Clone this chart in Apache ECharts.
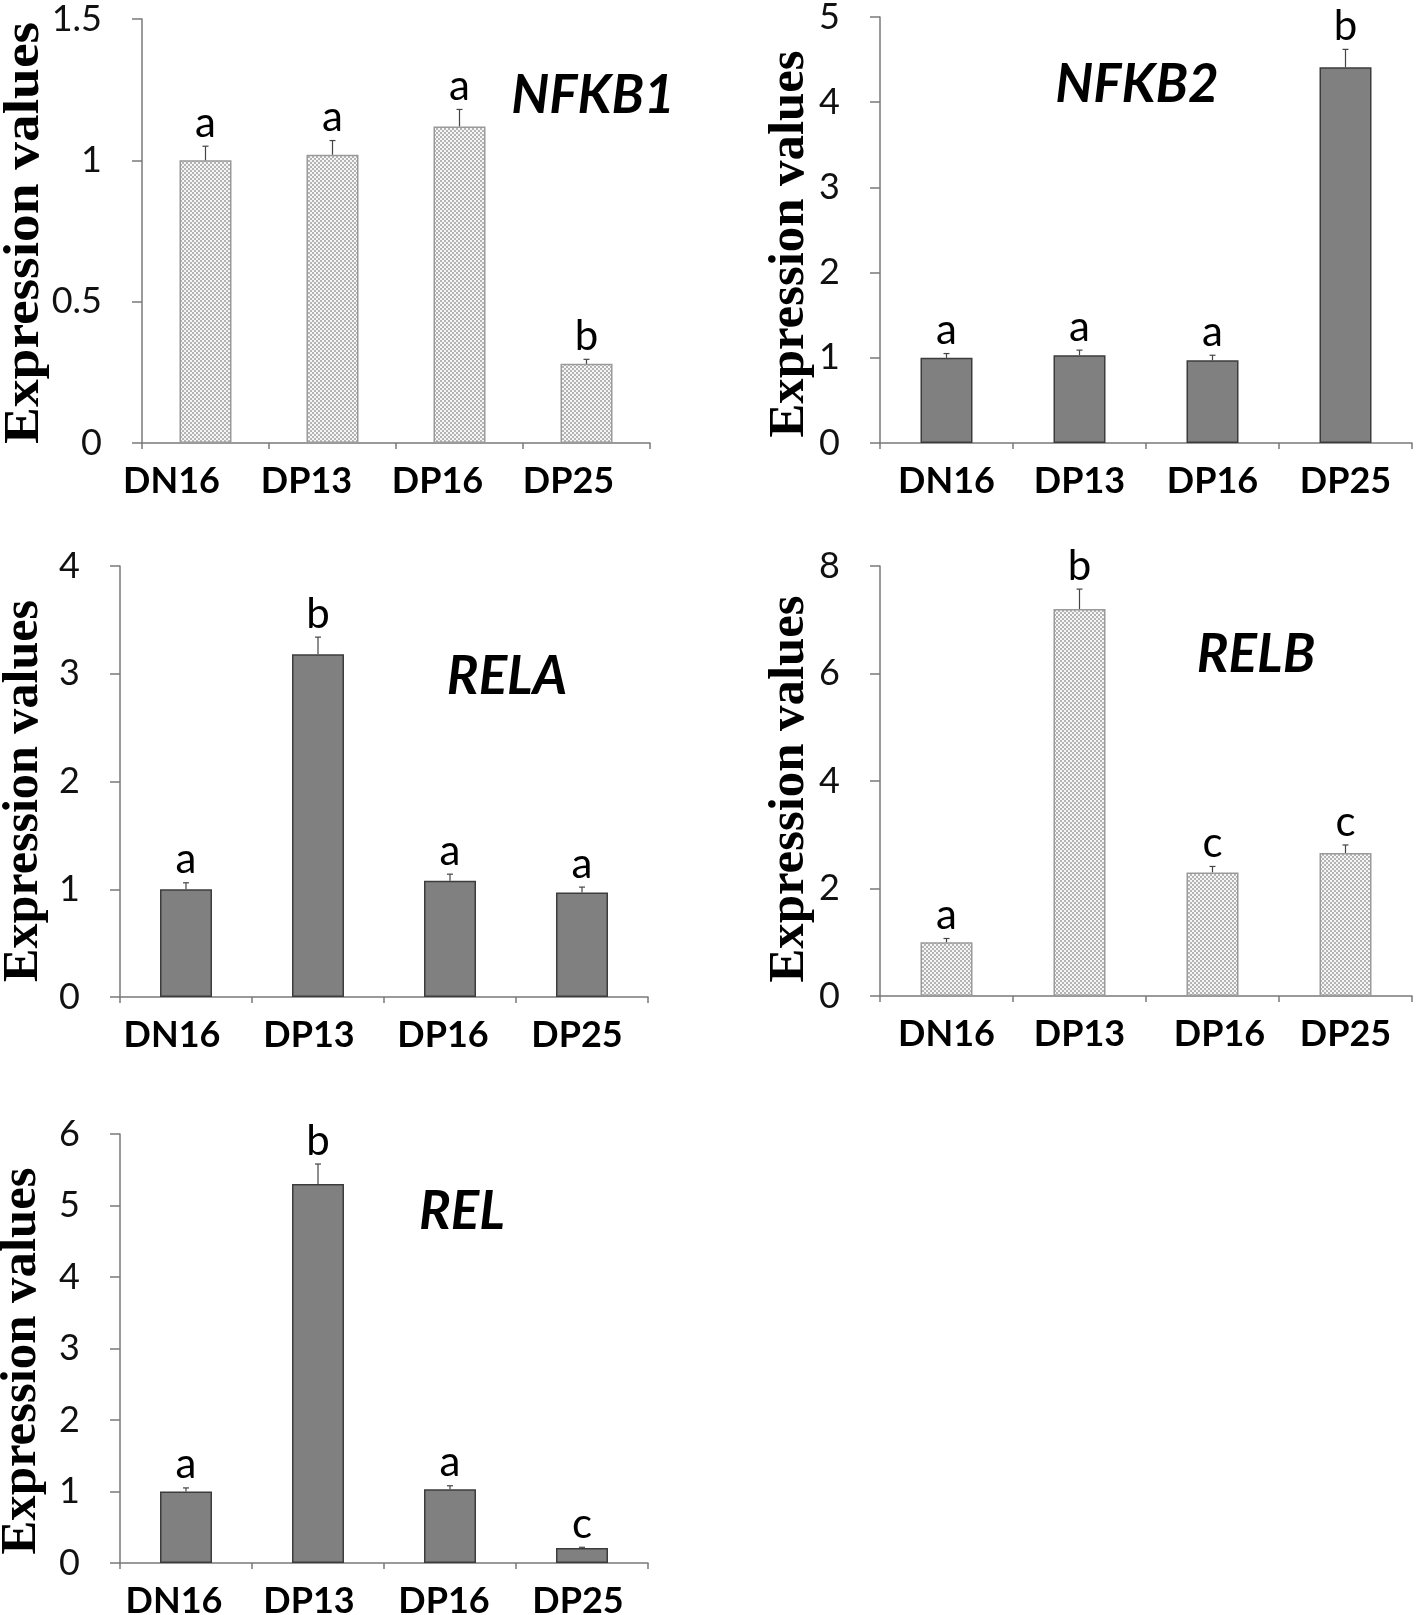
<!DOCTYPE html>
<html>
<head>
<meta charset="utf-8">
<title>NF-kB subunit expression</title>
<script src="https://cdn.jsdelivr.net/npm/echarts@6/dist/echarts.min.js"></script>
<style>
html, body { margin: 0; padding: 0; background: #fff; }
#chart { width: 1416px; height: 1615px; }
</style>
</head>
<body>
<div id="chart"></div>
<script>
const categories = ['DN16', 'DP13', 'DP16', 'DP25'];

const nfkb1Values = [1.00, 1.02, 1.12, 0.28];
const nfkb1Errors = [0.05, 0.05, 0.06, 0.016];
const nfkb1Letters = ['a', 'a', 'a', 'b'];

const nfkb2Values = [1.00, 1.03, 0.97, 4.41];
const nfkb2Errors = [0.05, 0.06, 0.06, 0.21];
const nfkb2Letters = ['a', 'a', 'a', 'b'];

const relaValues = [1.00, 3.18, 1.08, 0.97];
const relaErrors = [0.06, 0.16, 0.06, 0.05];
const relaLetters = ['a', 'b', 'a', 'a'];

const relbValues = [1.00, 7.20, 2.30, 2.66];
const relbErrors = [0.07, 0.37, 0.11, 0.15];
const relbLetters = ['a', 'b', 'c', 'c'];

const relValues = [1.00, 5.30, 1.03, 0.21];
const relErrors = [0.05, 0.28, 0.05, 0.01];
const relLetters = ['a', 'b', 'a', 'c'];

const panels = [
    { gene: 'NFKB1', values: nfkb1Values, errors: nfkb1Errors, letters: nfkb1Letters, max: 1.5, interval: 0.5, dotted: true },
    { gene: 'NFKB2', values: nfkb2Values, errors: nfkb2Errors, letters: nfkb2Letters, max: 5, interval: 1, dotted: false },
    { gene: 'RELA', values: relaValues, errors: relaErrors, letters: relaLetters, max: 4, interval: 1, dotted: false },
    { gene: 'RELB', values: relbValues, errors: relbErrors, letters: relbLetters, max: 8, interval: 2, dotted: true },
    { gene: 'REL', values: relValues, errors: relErrors, letters: relLetters, max: 6, interval: 1, dotted: false }
];

// pixel box of every panel, where its gene name and y title sit,
// and how far each category label is nudged sideways (the original labels are not centred)
const layout = [
    { left: 142, right: 650, top: 19, bottom: 443, titleX: 593, titleY: 96, nameX: 25, nameY: 233, nameLen: 423, shift: [-34, -26, -22, -18] },
    { left: 880, right: 1412, top: 17, bottom: 443, titleX: 1137, titleY: 85, nameX: 790, nameY: 244, nameLen: 388, shift: [0, 0, 0, 0] },
    { left: 120, right: 648, top: 566, bottom: 997, titleX: 507, titleY: 677, nameX: 24, nameY: 791, nameLen: 383, shift: [-14, -9, -7, -5] },
    { left: 880, right: 1412, top: 566, bottom: 996, titleX: 1256, titleY: 655, nameX: 790, nameY: 789, nameLen: 388, shift: [0, 0, 7, 0] },
    { left: 120, right: 648, top: 1134, bottom: 1563, titleX: 462, titleY: 1212, nameX: 22, nameY: 1361, nameLen: 388, shift: [-12, -9, -6, -4] }
];

// fine grey dot texture for the light bars
function dotPattern() {
    let c = document.createElement('canvas');
    c.width = 4;
    c.height = 4;
    let ctx = c.getContext('2d');
    ctx.fillStyle = '#f6f6f6';
    ctx.fillRect(0, 0, 4, 4);
    ctx.fillStyle = '#b4b4b4';
    ctx.fillRect(0, 0, 2, 2);
    ctx.fillRect(2, 2, 2, 2);
    return c;
}

const axisColor = '#7a7a7a';
const pattern = dotPattern();

let grids = [], xAxes = [], yAxes = [], series = [], graphics = [];

panels.forEach((p, k) => {
    let box = layout[k];
    grids.push({
        left: box.left,
        top: box.top,
        width: box.right - box.left,
        height: box.bottom - box.top,
        containLabel: false,
        outerBoundsMode: 'none'
    });
    xAxes.push({
        type: 'category',
        gridIndex: k,
        data: categories.map((c, i) => {
            let s = box.shift[i];
            return { value: c, textStyle: { padding: s < 0 ? [0, -2 * s, 0, 0] : [0, 0, 0, 2 * s] } };
        }),
        axisLine: { lineStyle: { color: axisColor, width: 1.5 } },
        axisTick: { show: true, length: 6, lineStyle: { color: axisColor, width: 1.5 } },
        axisLabel: { margin: 20, color: '#000', fontFamily: 'Lato', fontWeight: 'bold', fontSize: 36 }
    });
    yAxes.push({
        type: 'value',
        gridIndex: k,
        min: 0,
        max: p.max,
        interval: p.interval,
        axisLine: { show: true, lineStyle: { color: axisColor, width: 1.5 } },
        axisTick: { show: true, length: 10, lineStyle: { color: axisColor, width: 1.5 } },
        splitLine: { show: false },
        axisLabel: { margin: 40, color: '#111', fontFamily: 'Lato', fontSize: 36 }
    });
    series.push({
        type: 'bar',
        xAxisIndex: k,
        yAxisIndex: k,
        barWidth: 52,
        data: p.values,
        itemStyle: p.dotted
            ? { color: { image: pattern, repeat: 'repeat' }, borderColor: '#9a9a9a', borderWidth: 1.5 }
            : { color: '#808080', borderColor: '#3c3c3c', borderWidth: 1.5 },
        animation: false
    });
    let letters = p.letters;
    series.push({
        type: 'custom',
        xAxisIndex: k,
        yAxisIndex: k,
        clip: false,
        z: 5,
        encode: { x: 0, y: 1 },
        data: p.values.map((v, i) => [i, v, p.errors[i]]),
        renderItem: function (params, api) {
            let i = api.value(0);
            let top = api.coord([i, api.value(1)]);
            let end = api.coord([i, api.value(1) + api.value(2)]);
            return {
                type: 'group',
                children: [
                    { type: 'line', shape: { x1: top[0], y1: top[1], x2: end[0], y2: end[1] },
                      style: { stroke: '#444', lineWidth: 1.2 } },
                    { type: 'line', shape: { x1: end[0] - 3, y1: end[1], x2: end[0] + 3, y2: end[1] },
                      style: { stroke: '#444', lineWidth: 1.2 } },
                    { type: 'text', x: end[0], y: end[1] - 2,
                      style: { text: letters[params.dataIndex], fill: '#000', font: '42px Lato',
                               align: 'center', verticalAlign: 'bottom' } }
                ]
            };
        },
        animation: false
    });
    graphics.push({
        type: 'text',
        x: box.titleX,
        y: box.titleY,
        style: { text: p.gene, fill: '#000', font: 'italic bold 53px Lato', align: 'center', verticalAlign: 'middle' }
    });
    graphics.push({
        type: 'text',
        x: box.nameX,
        y: box.nameY,
        rotation: Math.PI / 2,
        scaleX: box.nameLen / 382,
        style: { text: 'Expression values', fill: '#000', font: 'bold 50px "Liberation Serif"',
                 align: 'center', verticalAlign: 'middle' }
    });
});

let myChart = echarts.init(document.getElementById('chart'), null, { renderer: 'canvas' });
myChart.setOption({
    backgroundColor: '#fff',
    animation: false,
    grid: grids,
    xAxis: xAxes,
    yAxis: yAxes,
    series: series,
    graphic: graphics
});
</script>
</body>
</html>
